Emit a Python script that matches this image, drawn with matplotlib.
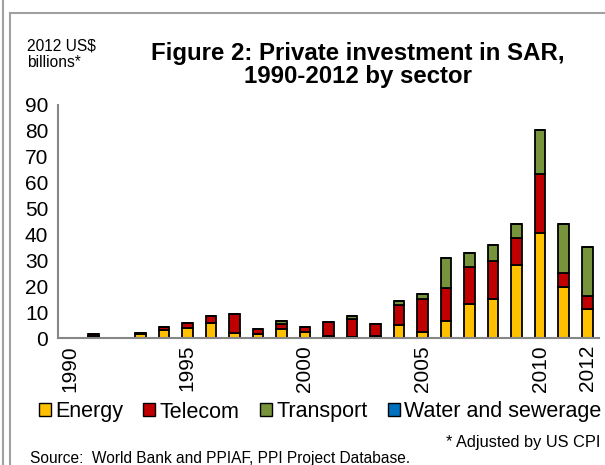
import matplotlib.pyplot as plt
import numpy as np
from matplotlib.patches import Patch
from matplotlib.lines import Line2D

plt.rcParams['font.family'] = ['Liberation Sans', 'DejaVu Sans']

# Data (2012 US$ billions)
years = list(range(1990, 2013))
energy = [0.1, 0.9, 0.1, 1.4, 2.9, 3.9, 5.9, 1.9, 1.6, 3.5, 2.5, 0.8, 0.4, 0.8,
          5.2, 2.2, 6.6, 13.1, 15.2, 28.2, 40.7, 19.8, 11.3]
telecom = [0.0, 0.5, 0.0, 0.6, 1.5, 2.0, 2.7, 7.2, 2.0, 1.8, 1.7, 5.5, 7.1, 4.6,
           7.6, 12.9, 12.8, 14.5, 14.5, 10.6, 22.6, 5.4, 4.9]
transport = [0.0, 0.0, 0.0, 0.0, 0.0, 0.0, 0.0, 0.0, 0.0, 1.4, 0.2, 0.0, 1.1, 0.0,
             1.5, 1.9, 11.5, 5.1, 6.2, 5.2, 17.0, 18.8, 19.1]
water = [0.0] * len(years)
tick_years = [1990, 1995, 2000, 2005, 2010, 2012]

colors = {'Energy': '#FFC000', 'Telecom': '#C00000',
          'Transport': '#77933C', 'Water and sewerage': '#0070C0'}

fig = plt.figure(figsize=(6.05, 4.65), dpi=100)
W, H = 605, 465
ax = fig.add_axes([58 / W, (H - 338) / H, (599 - 58) / W, (338 - 105) / H])

x = np.arange(len(years))
bottom = np.zeros(len(years))
for name, vals in [('Energy', energy), ('Telecom', telecom),
                   ('Transport', transport), ('Water and sewerage', water)]:
    vals = np.array(vals)
    ax.bar(x, vals, bottom=bottom, width=0.45, color=colors[name],
           edgecolor='black', linewidth=1.3)
    bottom += vals

ax.set_xlim(-0.5, len(years) - 0.5)
ax.set_ylim(0, 90)
ax.set_yticks(range(0, 91, 10))
ax.set_xticks([years.index(y) for y in tick_years])
ax.set_xticklabels([str(y) for y in tick_years], rotation=90, fontsize=15)
ax.tick_params(axis='y', length=0, pad=7, labelsize=15)
ax.tick_params(axis='x', length=0, pad=5)
for s in ['top', 'right']:
    ax.spines[s].set_visible(False)
for s in ['left', 'bottom']:
    ax.spines[s].set_color('#868686')
    ax.spines[s].set_linewidth(1.5)

# titles and notes
fig.text(358 / W, 1 - 65 / H, 'Figure 2: Private investment in SAR,\n1990-2012 by sector',
         ha='center', va='center', fontsize=17.3, fontweight='bold', linespacing=1.0)
fig.text(27 / W, 1 - 54 / H, '2012 US$\nbillions*', ha='left', va='center',
         fontsize=11.2, linespacing=1.15)
fig.text(600 / W, 1 - 442 / H, '* Adjusted by US CPI', ha='right', va='center', fontsize=11.8)
fig.text(30 / W, 1 - 458 / H, 'Source:  World Bank and PPIAF, PPI Project Database.',
         ha='left', va='center', fontsize=11.2)

handles = [Patch(facecolor=c, edgecolor='black', linewidth=1.0) for c in colors.values()]
fig.legend(handles, list(colors.keys()), loc='center', bbox_to_anchor=(320 / W, 1 - 412 / H),
           ncol=4, frameon=False, fontsize=15.5, handlelength=0.55, handleheight=0.55,
           handletextpad=0.2, columnspacing=0.95, borderaxespad=0)

# frame lines of the surrounding layout
fig.add_artist(Line2D([3 / W, 3 / W], [0, 1], color='#A0A0A0', linewidth=1.5))
fig.add_artist(Line2D([10 / W, 10 / W], [0, 1 - 13 / H], color='#A0A0A0', linewidth=1.5))
fig.add_artist(Line2D([10 / W, 1], [1 - 13 / H, 1 - 13 / H], color='#A0A0A0', linewidth=1.5))

fig.savefig('out.png', dpi=100)
